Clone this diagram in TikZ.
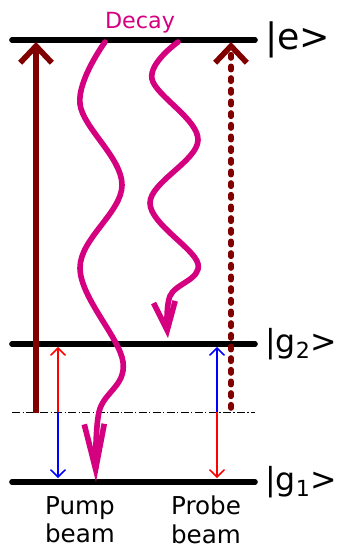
\documentclass[tikz,border=0pt]{standalone}
\usepackage{fontspec}
\setmainfont{DejaVu Sans}
\usetikzlibrary{arrows.meta,positioning}
\definecolor{decaypink}{RGB}{212,0,128}
\definecolor{pumpred}{RGB}{128,0,0}

\begin{document}
\begin{tikzpicture}[x=0.03cm,y=-0.03cm,
    level/.style={line width=4.8pt,line cap=round},
    virtual/.style={line width=0.8pt,dash pattern=on 7pt off 2pt on 1pt off 2pt},
    pump/.style={pumpred,line width=4.8pt,-{Straight Barb[length=0.5cm,width=0.95cm]}},
    probe/.style={pump,line cap=round,dash pattern=on 0.1cm off 0.25cm},
    decay/.style={decaypink,line width=4.8pt,line cap=round},
    beam/.style={line width=1.3pt,-{Straight Barb[length=0.22cm,width=0.45cm]}},
    lab/.style={inner sep=0pt,font=\fontsize{27}{32}\selectfont},
    note/.style={inner sep=0pt,align=center,font=\fontsize{21}{24.5}\selectfont}]
    \useasboundingbox (0,0) rectangle (348,550);
    % energy levels
    \coordinate (e-l) at (12,40);   \coordinate (e-r) at (255,40);
    \coordinate (g2-l) at (12,344); \coordinate (g2-r) at (255,344);
    \coordinate (g1-l) at (12,482); \coordinate (g1-r) at (255,482);
    \coordinate (v-l) at (12,412);  \coordinate (v-r) at (255,412);
    \draw[level] (e-l)--(e-r); \draw[level] (g2-l)--(g2-r); \draw[level] (g1-l)--(g1-r);
    \draw[virtual] (v-l)--(v-r);
    \node[lab,font=\fontsize{31}{36}\selectfont,right=0.3cm of e-r] (elab) {|e>};
    \node[lab,right=0.3cm of g2-r] (g2lab) {|g\textsubscript{2}>};
    \node[lab,right=0.3cm of g1-r] (g1lab) {|g\textsubscript{1}>};
    \node[inner sep=0pt,anchor=base,text=decaypink,font=\fontsize{19}{22}\selectfont] (decay) at (140,28) {Decay};
    % pump and probe
    \coordinate (pump-bot) at (36,413);  \coordinate (pump-top) at (36,42);
    \coordinate (probe-bot) at (231,408); \coordinate (probe-top) at (231,42);
    \draw[pump] (pump-bot)--(pump-top);
    \draw[probe] (probe-bot)--(probe-top);
    % spontaneous decay
    \draw[decay,-{Straight Barb[length=1.35cm,width=0.6cm]}] plot[smooth,tension=0.6]
      coordinates {(105,42) (80,104) (122,185) (80,268) (123,362) (99,412) (96,482)};
    \draw[decay,-{Straight Barb[length=0.85cm,width=0.65cm]}] plot[smooth,tension=0.6]
      coordinates {(178,42) (152,79) (198,140) (150,203) (198,264) (170,296) (168,338)};
    % beams
    \coordinate (pb-mid) at (58,412); \coordinate (pb-top) at (58,347); \coordinate (pb-bot) at (58,478);
    \coordinate (qb-mid) at (217,412); \coordinate (qb-top) at (217,347); \coordinate (qb-bot) at (217,478);
    \draw[beam,red] (pb-mid)--(pb-top); \draw[beam,blue] (pb-mid)--(pb-bot);
    \draw[beam,blue] (qb-mid)--(qb-top); \draw[beam,red] (qb-mid)--(qb-bot);
    \node[note,anchor=north] (pumplab) at (80,496) {Pump\\beam};
    \node[note,anchor=north] (probelab) at (206,496) {Probe\\beam};
\end{tikzpicture}
\end{document}
